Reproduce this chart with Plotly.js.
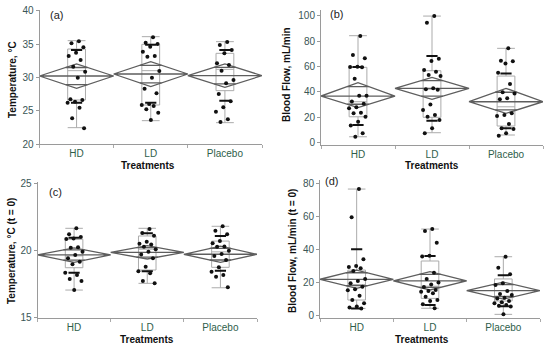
<!DOCTYPE html>
<html>
<head>
<meta charset="utf-8">
<script src="https://cdn.plot.ly/plotly-3.0.1.min.js"></script>
<style>html,body{margin:0;padding:0;background:#fff;}#chart{width:550px;height:349px;}</style>
</head>
<body>
<div id="chart"></div>
<script>
const categories = ['HD', 'LD', 'Placebo'];

// (a) Temperature, °C
const tempHD = [35.4, 35.1, 34.5, 33.7, 33.2, 32.6, 31.6, 30.85, 29.95, 26.7, 26.6, 26.35, 26.2, 25.45, 23.85, 22.35];
const tempLD = [36.0, 35.2, 35.0, 34.6, 33.85, 33.2, 33.1, 30.95, 29.95, 28.3, 27.6, 26.0, 25.85, 25.7, 25.2, 24.7, 23.6];
const tempPlacebo = [35.3, 34.85, 34.1, 33.6, 32.1, 31.85, 31.0, 29.6, 29.1, 27.5, 26.4, 25.5, 24.85, 23.7, 23.3];
const tempQ1 = [26.6, 25.85, 28.0];
const tempMedian = [31.0, 31.0, 31.2];
const tempQ3 = [34.25, 34.95, 33.6];
const tempLow = [22.45, 23.5, 23.2];
const tempHigh = [35.5, 36.1, 35.35];
const tempMean = [30.2, 30.5, 30.25];
const tempCiLow = [28.35, 28.6, 28.5];
const tempCiHigh = [32.0, 32.35, 32.0];
const tempSdLow = [26.2, 26.2, 26.5];
const tempSdHigh = [34.1, 34.9, 34.1];

// (b) Blood Flow, mL/min
const flowHD = [84, 69, 66.4, 59.8, 59.5, 59.3, 50.3, 36.8, 36.8, 32.3, 30.5, 27.7, 26.9, 23.3, 22.9, 20.2, 16.3, 13.4, 7.1, 4.4];
const flowLD = [99.8, 94.5, 66.1, 64.3, 57.2, 55.8, 53.2, 52.5, 42.7, 41.9, 41.5, 30.0, 25.5, 21.6, 20.2, 17.6, 11.1, 7.1];
const flowPlacebo = [74.3, 64.5, 64.0, 62.4, 55.0, 46.1, 39.5, 38.7, 34.8, 34.0, 22.9, 21.6, 20.8, 14.5, 11.1, 10.5, 7.1, 5.2];
const flowQ1 = [20.2, 19.8, 12.9];
const flowMedian = [32.1, 42.0, 28.1];
const flowQ3 = [59.3, 56.6, 52.4];
const flowLow = [4.4, 7.6, 5.8];
const flowHigh = [84.3, 99.8, 74.3];
const flowMean = [36.6, 42.7, 32.1];
const flowCiLow = [27.4, 34.0, 22.9];
const flowCiHigh = [47.1, 51.4, 42.7];
const flowSdLow = [13.7, 17.1, 11.1];
const flowSdHigh = [59.5, 68.2, 54.5];

// (c) Temperature, °C (t = 0)
const temp0HD = [21.65, 21.2, 21.0, 20.9, 20.85, 20.24, 20.2, 19.9, 19.67, 19.42, 19.17, 18.97, 18.35, 18.18, 17.88, 17.73, 17.06];
const temp0LD = [21.6, 21.3, 21.1, 20.65, 20.5, 20.45, 20.28, 20.1, 19.9, 19.7, 19.42, 18.8, 18.45, 18.3, 17.73, 17.56];
const temp0Placebo = [21.8, 21.47, 21.2, 20.7, 20.54, 20.3, 20.28, 19.98, 19.74, 19.6, 19.3, 18.75, 18.42, 18.18, 18.05, 17.26];
const temp0Q1 = [18.72, 18.55, 18.75];
const temp0Median = [19.6, 20.1, 19.9];
const temp0Q3 = [20.83, 21.08, 20.7];
const temp0Low = [17.06, 17.56, 17.23];
const temp0High = [21.65, 21.65, 21.8];
const temp0Mean = [19.67, 19.86, 19.72];
const temp0CiLow = [19.12, 19.37, 19.12];
const temp0CiHigh = [20.2, 20.36, 20.33];
const temp0SdLow = [18.35, 18.45, 18.5];
const temp0SdHigh = [20.95, 21.28, 21.07];

// (d) Blood Flow, mL/min (t = 0)
const flow0HD = [76.5, 59.4, 33.8, 29.8, 29.2, 28.4, 26.7, 21.9, 20.7, 19.3, 17.2, 15.6, 15.0, 11.7, 9.1, 7.1, 5.1, 4.5, 4.0];
const flow0LD = [52.2, 51.0, 43.9, 36.0, 35.5, 25.7, 21.9, 19.8, 18.6, 17.0, 15.2, 14.6, 14.2, 13.2, 11.1, 9.1, 8.5, 6.5, 4.1];
const flow0Placebo = [35.4, 28.7, 24.7, 19.3, 18.2, 14.6, 12.8, 12.2, 10.5, 10.0, 8.5, 7.8, 7.1, 6.1, 5.6, 5.1, 0.4];
const flow0Q1 = [9.1, 10.1, 8.5];
const flow0Median = [18.5, 17.5, 11.5];
const flow0Q3 = [27.3, 32.8, 21.9];
const flow0Low = [4.0, 4.1, 0.4];
const flow0High = [76.5, 52.2, 35.4];
const flow0Mean = [21.7, 20.7, 14.8];
const flow0CiLow = [16.2, 15.2, 9.6];
const flow0CiHigh = [27.3, 26.3, 20.0];
const flow0SdLow = [4.0, 6.1, 5.3];
const flow0SdHigh = [40.0, 35.8, 24.2];

const centers = categories.map((c, i) => i + 0.5);
function jitter(k) { return ((((k + 1) * 0.6180339887) % 1) - 0.5) * 0.26; }

function panel(xa, ya, groups, q1, med, q3, lo, hi, mean, ciLo, ciHi, sdLo, sdHi) {
  const tr = [];
  tr.push({type: 'box', xaxis: xa, yaxis: ya, x: centers, q1: q1, median: med, q3: q3,
    lowerfence: lo, upperfence: hi, width: 0.24, whiskerwidth: 1, boxpoints: false,
    line: {color: '#ababab', width: 1}, fillcolor: 'rgba(0,0,0,0)', hoverinfo: 'skip'});
  const dx = [], dy = [];
  const ov = (1 - 1 / Math.SQRT2) * 0.5;
  centers.forEach((c, i) => {
    dx.push(c - 0.5, c, c + 0.5, c, c - 0.5, c + 0.5, null);
    dy.push(mean[i], ciHi[i], mean[i], ciLo[i], mean[i], mean[i], null);
    const h = (ciHi[i] - mean[i]) / Math.SQRT2, l = (mean[i] - ciLo[i]) / Math.SQRT2;
    dx.push(c - ov, c + ov, null, c - ov, c + ov, null);
    dy.push(mean[i] + h, mean[i] + h, null, mean[i] - l, mean[i] - l, null);
  });
  tr.push({type: 'scatter', mode: 'lines', xaxis: xa, yaxis: ya, x: dx, y: dy,
    line: {color: '#5e5e5e', width: 1.3}, hoverinfo: 'skip', cliponaxis: false});
  const px = [], py = [];
  groups.forEach((g, i) => g.forEach((v, k) => { px.push(centers[i] + jitter(k)); py.push(v); }));
  tr.push({type: 'scatter', mode: 'markers', xaxis: xa, yaxis: ya, x: px, y: py,
    marker: {color: '#111', size: 4}, hoverinfo: 'skip'});
  tr.push({type: 'scatter', mode: 'markers', xaxis: xa, yaxis: ya,
    x: centers.concat(centers), y: sdLo.concat(sdHi),
    marker: {symbol: 'line-ew', size: 8, line: {width: 2, color: '#111'}}, hoverinfo: 'skip'});
  return tr;
}

const data = [].concat(
  panel('x', 'y', [tempHD, tempLD, tempPlacebo], tempQ1, tempMedian, tempQ3, tempLow, tempHigh, tempMean, tempCiLow, tempCiHigh, tempSdLow, tempSdHigh),
  panel('x2', 'y2', [flowHD, flowLD, flowPlacebo], flowQ1, flowMedian, flowQ3, flowLow, flowHigh, flowMean, flowCiLow, flowCiHigh, flowSdLow, flowSdHigh),
  panel('x3', 'y3', [temp0HD, temp0LD, temp0Placebo], temp0Q1, temp0Median, temp0Q3, temp0Low, temp0High, temp0Mean, temp0CiLow, temp0CiHigh, temp0SdLow, temp0SdHigh),
  panel('x4', 'y4', [flow0HD, flow0LD, flow0Placebo], flow0Q1, flow0Median, flow0Q3, flow0Low, flow0High, flow0Mean, flow0CiLow, flow0CiHigh, flow0SdLow, flow0SdHigh)
);

const W = 550, H = 349;
const FONT = 'Liberation Sans, Arial, sans-serif';
function xAxis(l, r, anchor) {
  return {domain: [l / W, r / W], range: [0, 3], anchor: anchor, tickmode: 'array', tickvals: centers,
    ticktext: categories, ticks: '', showline: true, linecolor: '#9a9a9a', linewidth: 1,
    showgrid: false, zeroline: false, tickfont: {family: FONT, size: 10, color: '#2e5e4a'},
    minor: {ticks: 'outside', tick0: 0, dtick: 1, ticklen: 3, tickcolor: '#aaa', showgrid: false}};
}
function yAxis(bottom, top, range, dtick, anchor) {
  return {domain: [1 - bottom / H, 1 - top / H], range: range, anchor: anchor, dtick: dtick, tick0: 0,
    showline: true, linecolor: '#9a9a9a', linewidth: 1, ticks: 'outside', ticklen: 3, tickcolor: '#9a9a9a',
    showgrid: false, zeroline: false, tickfont: {family: FONT, size: 10, color: '#3a5656'}};
}
function ann(text, x, y, opts) {
  return Object.assign({text: text, x: x / W, y: 1 - y / H, xref: 'paper', yref: 'paper',
    xanchor: 'center', yanchor: 'middle', showarrow: false,
    font: {family: FONT, size: 10, color: '#111'}}, opts || {});
}
const bold = {family: FONT, size: 10, color: '#111', weight: 'bold'};
const layout = {
  width: W, height: H, margin: {l: 0, r: 0, t: 0, b: 0}, showlegend: false,
  paper_bgcolor: '#fff', plot_bgcolor: 'rgba(0,0,0,0)',
  xaxis: xAxis(39.5, 262, 'y'), yaxis: yAxis(144, 10, [20, 40.1], 5, 'x'),
  xaxis2: xAxis(321, 543, 'y2'), yaxis2: yAxis(144.5, 10, [-1.7, 104.6], 20, 'x2'),
  xaxis3: xAxis(37.5, 257, 'y3'), yaxis3: yAxis(318.3, 181.5, [14.96, 25.13], 5, 'x3'),
  xaxis4: xAxis(320, 540, 'y4'), yaxis4: yAxis(318.3, 180, [-2.0, 82.0], 20, 'x4'),
  annotations: [
    ann('(a)', 56, 15, {font: {family: FONT, size: 11, color: '#222'}}),
    ann('(b)', 336, 14, {font: {family: FONT, size: 11, color: '#222'}}),
    ann('(c)', 55, 192, {font: {family: FONT, size: 11, color: '#222'}}),
    ann('(d)', 331, 181, {font: {family: FONT, size: 11, color: '#222'}}),
    ann('<b>Treatments</b>', 148, 166, {font: bold}),
    ann('<b>Treatments</b>', 432, 166, {font: bold}),
    ann('<b>Treatments</b>', 147, 339, {font: bold}),
    ann('<b>Treatments</b>', 422, 339, {font: bold}),
    ann('<b>Temperature, °C</b>', 12, 80, {textangle: -90, font: bold}),
    ann('<b>Blood Flow, mL/min</b>', 286, 75, {textangle: -90, font: bold}),
    ann('<b>Temperature, °C (t = 0)</b>', 11, 251, {textangle: -90, font: bold}),
    ann('<b>Blood Flow, mL/min (t = 0)</b>', 292, 251, {textangle: -90, font: bold})
  ]
};
Plotly.newPlot('chart', data, layout, {staticPlot: true, displayModeBar: false});
</script>
</body>
</html>
